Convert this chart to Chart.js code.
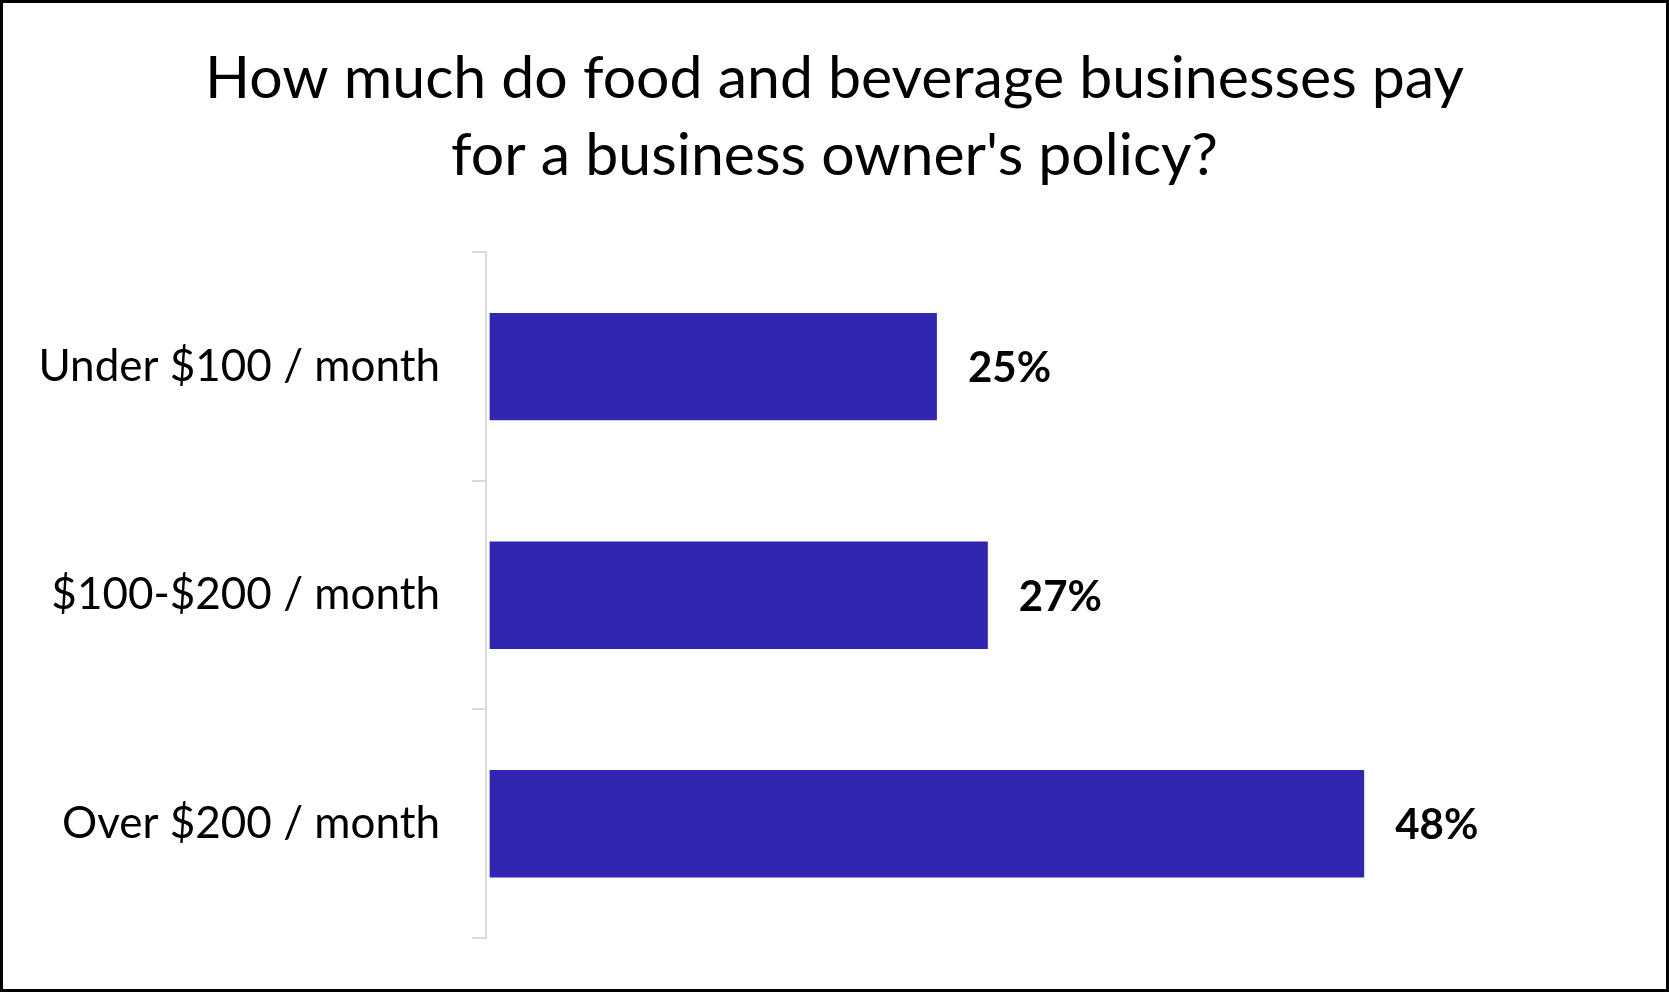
<!DOCTYPE html>
<html>
<head>
<meta charset="utf-8">
<script src="https://cdn.jsdelivr.net/npm/chart.js@4"></script>
<style>
  html, body { margin: 0; padding: 0; background: #fff; }
  #frame {
    box-sizing: border-box;
    width: 1669px;
    height: 992px;
    border: 3px solid #000;
    background: #fff;
  }
  #frame canvas { display: block; }
</style>
</head>
<body>
<div id="frame">
  <canvas id="bopChart" width="1663" height="986"></canvas>
</div>
<script>
const categories = ['Under $100 / month', '$100-$200 / month', 'Over $200 / month'];
const shares = [24.6, 27.4, 48.1]; // percent of businesses
const shareLabels = ['25%', '27%', '48%'];

const titleLines = ["How much do food and beverage businesses pay", "for a business owner's policy?"];

// write the percentages just right of each bar
const barValueLabels = {
    id: 'barValueLabels',
    afterDatasetsDraw(chart) {
        const ctx = chart.ctx;
        const meta = chart.getDatasetMeta(0);
        ctx.save();
        ctx.font = 'bold 42px Lato';
        ctx.fillStyle = '#000';
        ctx.textAlign = 'left';
        ctx.textBaseline = 'middle';
        meta.data.forEach((bar, i) => {
            ctx.fillText(shareLabels[i], bar.x + 31, bar.y + 2);
        });
        ctx.restore();
    }
};

const ctx = document.getElementById('bopChart').getContext('2d');
const bopChart = new Chart(ctx, {
    type: 'bar',
    data: {
        labels: categories,
        datasets: [{
            data: shares,
            backgroundColor: 'rgb(48, 38, 176)',
            categoryPercentage: 1,
            barPercentage: 0.47
        }]
    },
    options: {
        indexAxis: 'y',
        responsive: false,
        animation: false,
        layout: {
            padding: { top: 0, right: 0, bottom: 51, left: 0 }
        },
        scales: {
            x: {
                display: false,
                min: -0.2,
                max: 64.7
            },
            y: {
                grid: {
                    display: true,
                    drawOnChartArea: false,
                    tickLength: 14,
                    color: '#d9d9d9',
                    lineWidth: 2
                },
                border: { color: '#d9d9d9', width: 2 },
                ticks: {
                    color: '#000',
                    padding: 32,
                    font: { family: 'Lato', size: 44 }
                },
                afterFit(scale) {
                    // keep the axis line where the original has it
                    scale.width = 483;
                    scale.paddingTop = 0;
                    scale.paddingBottom = 0;
                }
            }
        },
        plugins: {
            legend: { display: false },
            tooltip: { enabled: false },
            title: {
                display: true,
                text: titleLines,
                color: '#000',
                font: { family: 'Lato', size: 59, weight: 'normal', lineHeight: 1.3 },
                padding: { top: 38, bottom: 58 }
            }
        }
    },
    plugins: [barValueLabels]
});
</script>
</body>
</html>
